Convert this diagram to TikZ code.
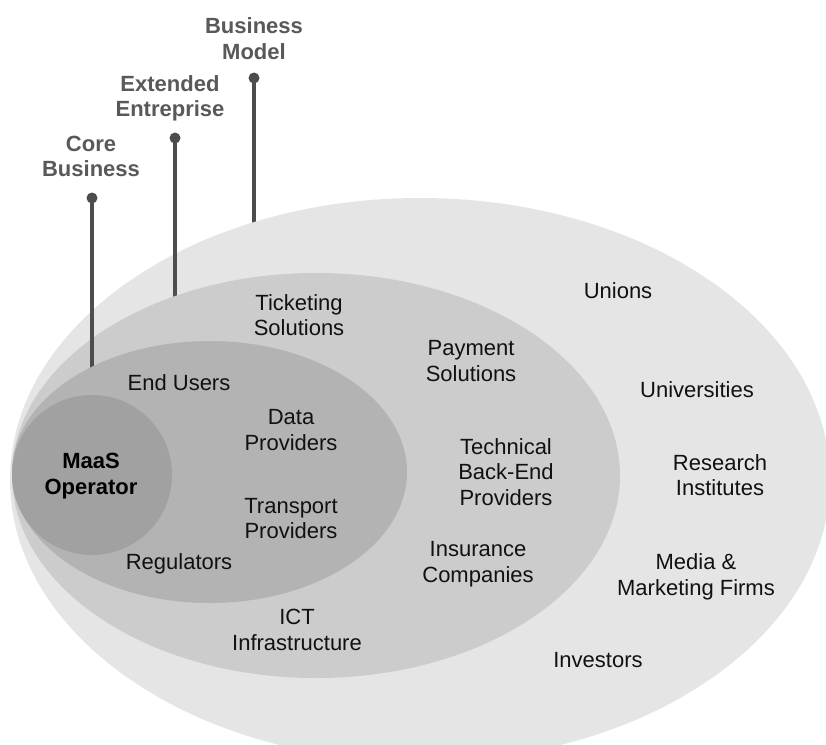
\documentclass[tikz,border=0pt]{standalone}
\usepackage{fontspec}
\setmainfont{Liberation Sans}
\definecolor{outerc}{HTML}{E5E5E5}
\definecolor{midc}{HTML}{CCCCCC}
\definecolor{innerc}{HTML}{B3B3B3}
\definecolor{corec}{HTML}{A1A1A1}
\definecolor{linec}{HTML}{4D4D4D}
\definecolor{labelc}{HTML}{595959}
\definecolor{txtc}{HTML}{111111}
\tikzset{
  txt/.style={align=center, inner sep=0pt, text=txtc, font=\fontsize{22}{25.5}\selectfont},
  lvl/.style={align=center, inner sep=0pt, text=labelc, font=\fontsize{22}{25.5}\selectfont\bfseries},
  core/.style={align=center, inner sep=0pt, text=black, font=\fontsize{22}{25.5}\selectfont\bfseries},
  leader/.style={draw=linec, line width=4pt},
  leaderdot/.style={circle, fill=linec, minimum size=11pt, inner sep=0pt},
}
\begin{document}
\begin{tikzpicture}[x=1pt, y=-1pt]
\useasboundingbox (0,0) rectangle (826,744);
\clip (0,0) rectangle (826,744);
\fill[white] (0,0) rectangle (826,744);

% leader: Business Model (ends under outer ellipse)
\node[leaderdot] (bmdot) at (254,78) {};
\coordinate (bmend) at (254,250);
\draw[leader] (bmdot.center) -- (bmend);
% outer ellipse
\fill[outerc] (420,480) ellipse [x radius=410pt, y radius=282pt];

% leader: Extended Entreprise (ends under middle ellipse)
\node[leaderdot] (eedot) at (175,138) {};
\coordinate (eeend) at (175,320);
\draw[leader] (eedot.center) -- (eeend);
% middle ellipse
\fill[midc] (316,475.5) ellipse [x radius=304pt, y radius=202.5pt];

% leader: Core Business (ends under inner ellipse)
\node[leaderdot] (cbdot) at (92,198) {};
\coordinate (cbend) at (92,390);
\draw[leader] (cbdot.center) -- (cbend);
% inner ellipse
\fill[innerc] (209.5,472) ellipse [x radius=197.5pt, y radius=131pt];
% MaaS operator circle
\fill[corec] (92,475) circle [radius=80pt];

% level labels
\node[lvl] (bm) at (254,38.5) {Business\\Model};
\node[lvl] (ee) at (170,98.5) {Extended\\Entreprise};
\node[lvl] (cb) at (91,156.5) {Core\\Business};

% core
\node[core] (maas) at (91,476) {MaaS\\Operator};

% inner ring
\node[txt] (eu) at (179,382.5) {End Users};
\node[txt] (dp) at (291,430) {Data\\Providers};
\node[txt] (tp) at (291,518.5) {Transport\\Providers};
\node[txt] (rg) at (179,564) {Regulators};

% middle ring
\node[txt] (ts) at (299,315) {Ticketing\\Solutions};
\node[txt] (ps) at (471,361) {Payment\\Solutions};
\node[txt] (tb) at (506,472) {Technical\\Back-End\\Providers};
\node[txt] (ic) at (478,564) {Insurance\\Companies};
\node[txt] (ict) at (297,630) {ICT\\Infrastructure};

% outer ring
\node[txt] (un) at (618,290.5) {Unions};
\node[txt] (uv) at (697,390) {Universities};
\node[txt] (ri) at (720,475) {Research\\Institutes};
\node[txt] (mm) at (696,577) {Media \&\\Marketing Firms};
\node[txt] (iv) at (598,660) {Investors};
\end{tikzpicture}
\end{document}
